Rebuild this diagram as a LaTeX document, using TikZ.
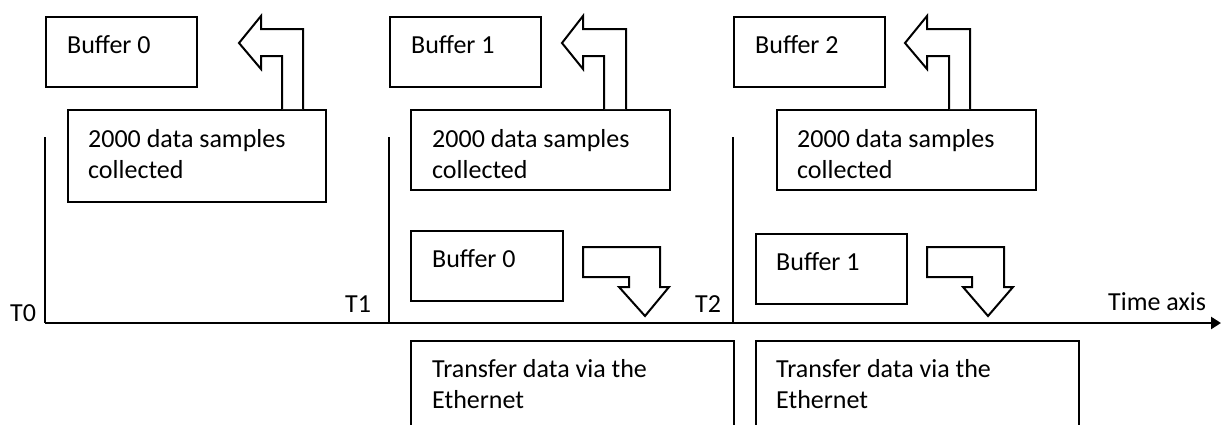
\documentclass[tikz,border=0pt]{standalone}
\usepackage{fontspec}
\setmainfont{Carlito}
\usetikzlibrary{arrows.meta}
\tikzset{
  box/.style={draw, line width=2pt, rectangle, inner sep=0pt, anchor=north west},
  txt/.style={inner sep=0pt, anchor=base west, align=left, font=\fontsize{26}{31}\selectfont},
  blk/.style={draw, line width=2pt, line join=miter, fill=white},
  tick/.style={line width=2pt},
}
\begin{document}
\begin{tikzpicture}[x=1pt,y=-1pt]
\useasboundingbox (0,0) rectangle (1221,424);
\clip (0,0) rectangle (1221,424);
% top buffer boxes
\node[box, minimum width=151pt, minimum height=70pt] (b0) at (45,16) {};
\node[box, minimum width=151pt, minimum height=70pt] (b1) at (389,16) {};
\node[box, minimum width=151pt, minimum height=70pt] (b2) at (733,16) {};
\node[txt] (tb0) at (67,53) {Buffer 0};
\node[txt] (tb1) at (411,53) {Buffer 1};
\node[txt] (tb2) at (755,53) {Buffer 2};
% sample boxes
\node[box, minimum width=258pt, minimum height=92pt] (s0) at (67,109) {};
\node[box, minimum width=259pt, minimum height=80pt] (s1) at (410,109) {};
\node[box, minimum width=259pt, minimum height=80pt] (s2) at (776,109) {};
\node[txt] (ts0) at (88,178) {2000 data samples\\collected};
\node[txt] (ts1) at (432,178) {2000 data samples\\collected};
\node[txt] (ts2) at (797,178) {2000 data samples\\collected};
% lower buffer boxes
\node[box, minimum width=152pt, minimum height=70pt] (lb0) at (410,230) {};
\node[box, minimum width=151pt, minimum height=70pt] (lb1) at (755,233) {};
\node[txt] (tlb0) at (432,267) {Buffer 0};
\node[txt] (tlb1) at (776,270) {Buffer 1};
% transfer boxes
\node[box, minimum width=323pt, minimum height=100pt] (e0) at (410,340) {};
\node[box, minimum width=323pt, minimum height=100pt] (e1) at (755,340) {};
\node[txt] (te0) at (432,408) {Transfer data via the\\Ethernet};
\node[txt] (te1) at (776,408) {Transfer data via the\\Ethernet};
% up block arrows
\draw[blk] (303,109) -- (303,29) -- (261,29) -- (261,16) -- (239,43) -- (261,69) -- (261,56) -- (282,56) -- (282,109);
\draw[blk] (626,109) -- (626,29) -- (583,29) -- (583,16) -- (562,43) -- (583,69) -- (583,56) -- (604,56) -- (604,109);
\draw[blk] (970,109) -- (970,29) -- (927,29) -- (927,16) -- (905,43) -- (927,69) -- (927,56) -- (949,56) -- (949,109);
% down block arrows
\draw[blk] (583,247) -- (660,247) -- (660,287) -- (669,287) -- (645,316) -- (619,287) -- (629,287) -- (629,277) -- (583,277) -- cycle;
\draw[blk] (927,247) -- (1004,247) -- (1004,287) -- (1013,287) -- (988,316) -- (963,287) -- (972,287) -- (972,277) -- (927,277) -- cycle;
% time marks
\coordinate (t0top) at (45,137);
\coordinate (t1top) at (389,137);
\coordinate (t2top) at (733,137);
\coordinate (t0) at (45,323);
\coordinate (t1) at (389,323);
\coordinate (t2) at (733,323);
\coordinate (tend) at (1221,323);
\draw[tick] (t0top) -- (t0);
\draw[tick] (t1top) -- (t1);
\draw[tick] (t2top) -- (t2);
\draw[line width=2.6pt, -{Triangle[length=10pt,width=12pt]}] (t0) -- (tend);
\node[txt] (lt0) at (10,321) {T0};
\node[txt] (lt1) at (345,312) {T1};
\node[txt] (lt2) at (695,312) {T2};
\node[txt] (lax) at (1108,310) {Time axis};
\end{tikzpicture}
\end{document}
